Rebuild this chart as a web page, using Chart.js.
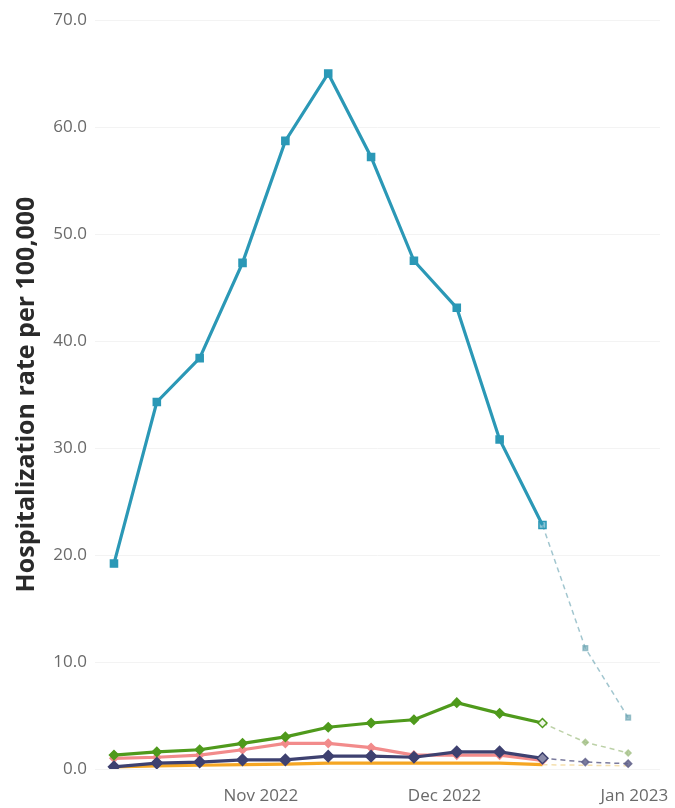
<!DOCTYPE html>
<html>
<head>
<meta charset="utf-8">
<script src="https://cdn.jsdelivr.net/npm/chart.js@4"></script>
<style>
  html, body { margin: 0; padding: 0; background: #fff; }
  #wrap { width: 675px; height: 808px; }
</style>
</head>
<body>
<div id="wrap"><canvas id="lineChart" width="675" height="808"></canvas></div>
<script>
// week ending dates (last two are projected / dashed)
const weekEnding = ['2022-10-08', '2022-10-15', '2022-10-22', '2022-10-29', '2022-11-05',
  '2022-11-12', '2022-11-19', '2022-11-26', '2022-12-03', '2022-12-10', '2022-12-17',
  '2022-12-24', '2022-12-31'];
const projStart = 10;

const teal   = [19.2, 34.3, 38.4, 47.3, 58.7, 65.0, 57.2, 47.5, 43.1, 30.8, 22.8, 11.3, 4.8];
const green  = [1.3, 1.6, 1.8, 2.4, 3.0, 3.9, 4.3, 4.6, 6.2, 5.2, 4.3, 2.5, 1.5];
const pink   = [1.0, 1.1, 1.3, 1.8, 2.4, 2.4, 2.0, 1.3, 1.3, 1.3, 0.8, null, null];
const navy   = [0.2, 0.55, 0.65, 0.85, 0.85, 1.2, 1.2, 1.1, 1.6, 1.6, 1.0, 0.65, 0.5];
const orange = [0.2, 0.3, 0.35, 0.4, 0.45, 0.55, 0.55, 0.55, 0.55, 0.55, 0.4, 0.35, 0.3];

const tickDates  = ['2022-11-01', '2022-12-01', '2023-01-01'];
const tickLabels = ['Nov 2022', 'Dec 2022', 'Jan 2023'];
const yTicks = [0, 10, 20, 30, 40, 50, 60, 70];

const day0 = Date.parse(weekEnding[0]);
function dayOf(d) { return (Date.parse(d) - day0) / 86400000; }

function serie(values, color, faded, lastFill, shape, radius, order) {
  return {
    data: values.map((v, i) => ({ x: dayOf(weekEnding[i]), y: v })),
    borderColor: color,
    borderWidth: 3.2,
    pointStyle: shape,
    pointRadius: ctx => ctx.dataIndex > projStart ? radius * 0.65 : radius,
    pointBackgroundColor: ctx => ctx.dataIndex > projStart ? faded : (ctx.dataIndex == projStart ? lastFill : color),
    pointBorderColor: ctx => ctx.dataIndex > projStart ? faded : color,
    pointBorderWidth: 1.5,
    order: order,
    segment: {
      borderDash: ctx => ctx.p0DataIndex >= projStart ? [5, 4] : undefined,
      borderColor: ctx => ctx.p0DataIndex >= projStart ? faded : undefined,
      borderWidth: ctx => ctx.p0DataIndex >= projStart ? 1.5 : undefined
    }
  };
}

const ctx = document.getElementById('lineChart').getContext('2d');
new Chart(ctx, {
  type: 'line',
  data: {
    datasets: [
      serie(teal, '#2b98b6', 'rgba(100,160,175,0.6)', 'rgba(43,152,182,0.55)', 'rect', 5, 1),
      serie(green, '#4f9a1c', 'rgba(160,190,130,0.7)', '#eef5e6', 'rectRot', 4.5, 2),
      serie(navy, '#3e4170', 'rgba(100,100,140,0.85)', '#8a8aa8', 'rectRot', 5.5, 3),
      serie(pink, '#f28b8b', 'rgba(242,139,139,0.5)', '#f7b5b5', 'rectRot', 4, 4),
      serie(orange, '#f5a623', 'rgba(240,210,140,0.7)', '#f5a623', 'circle', 0, 5)
    ]
  },
  options: {
    responsive: false,
    animation: false,
    layout: { padding: { top: 20, right: 15, left: 0, bottom: 0 } },
    plugins: { legend: { display: false }, tooltip: { enabled: false } },
    scales: {
      x: {
        type: 'linear',
        min: -3.1,
        max: 89.2,
        grid: { display: false },
        border: { display: false },
        afterBuildTicks: axis => { axis.ticks = tickDates.map(d => ({ value: dayOf(d) })); },
        afterFit: axis => { axis.height = 39; axis.paddingRight = 0; },
        ticks: {
          autoSkip: false,
          maxRotation: 0,
          padding: 9,
          color: '#6a6a6a',
          font: { family: 'Open Sans', size: 17 },
          callback: (v, i) => tickLabels[i]
        }
      },
      y: {
        min: 0,
        max: 70,
        grid: { color: '#f3f3f3', drawTicks: false },
        border: { display: false },
        afterBuildTicks: axis => { axis.ticks = yTicks.map(v => ({ value: v })); },
        afterFit: axis => { axis.width = 95; },
        ticks: {
          padding: 8,
          color: '#6a6a6a',
          font: { family: 'Open Sans', size: 17 },
          callback: v => v.toFixed(1)
        },
        title: {
          display: true,
          text: 'Hospitalization rate per 100,000',
          color: '#2a2a2a',
          font: { family: 'Open Sans', size: 25, weight: 'bold' },
          padding: { top: 12, bottom: 0 }
        }
      }
    }
  }
});
</script>
</body>
</html>
